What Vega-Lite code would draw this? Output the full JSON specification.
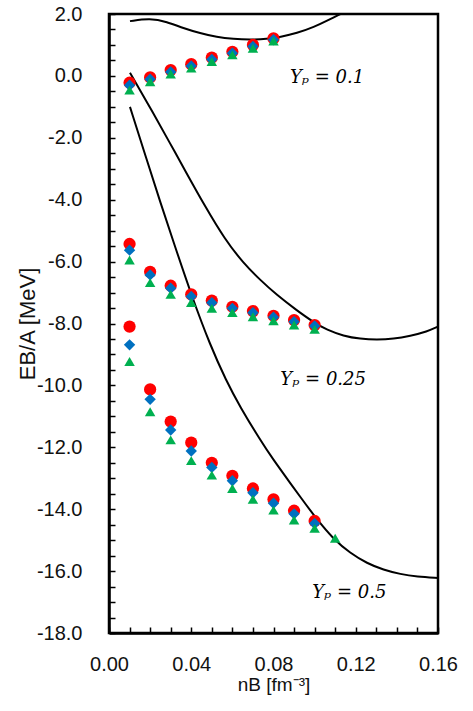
{
  "$schema": "https://vega.github.io/schema/vega-lite/v6.json",
  "width": 329,
  "height": 619,
  "autosize": {"type": "none"},
  "padding": {"left": 109, "top": 14, "right": 35, "bottom": 78},
  "background": "white",
  "config": {
    "view": {"stroke": "black", "strokeWidth": 2.5},
    "axis": {
      "grid": false,
      "domain": true,
      "domainColor": "black",
      "domainWidth": 2.5,
      "labelFont": "Liberation Sans",
      "labelFontSize": 20,
      "labelColor": "#111111",
      "titleFont": "Liberation Sans",
      "titleFontWeight": "normal",
      "titleColor": "#111111"
    }
  },
  "datasets": {
    "curves": [
      {"curve": "c1", "x": 0.0102, "y": 1.77},
      {"curve": "c1", "x": 0.0200, "y": 1.86},
      {"curve": "c1", "x": 0.0281, "y": 1.75},
      {"curve": "c1", "x": 0.0362, "y": 1.54},
      {"curve": "c1", "x": 0.0443, "y": 1.38},
      {"curve": "c1", "x": 0.0524, "y": 1.25},
      {"curve": "c1", "x": 0.0605, "y": 1.19},
      {"curve": "c1", "x": 0.0686, "y": 1.17},
      {"curve": "c1", "x": 0.0768, "y": 1.19},
      {"curve": "c1", "x": 0.0833, "y": 1.26},
      {"curve": "c1", "x": 0.0914, "y": 1.38},
      {"curve": "c1", "x": 0.0995, "y": 1.57},
      {"curve": "c1", "x": 0.1076, "y": 1.83},
      {"curve": "c1", "x": 0.1125, "y": 2.0},
      {"curve": "c2", "x": 0.0102, "y": 0.10},
      {"curve": "c2", "x": 0.0216, "y": -1.21},
      {"curve": "c2", "x": 0.0297, "y": -2.18},
      {"curve": "c2", "x": 0.0378, "y": -3.15},
      {"curve": "c2", "x": 0.0459, "y": -4.12},
      {"curve": "c2", "x": 0.0565, "y": -5.30},
      {"curve": "c2", "x": 0.0654, "y": -6.05},
      {"curve": "c2", "x": 0.0735, "y": -6.59},
      {"curve": "c2", "x": 0.0816, "y": -7.08},
      {"curve": "c2", "x": 0.0914, "y": -7.58},
      {"curve": "c2", "x": 0.0995, "y": -7.96},
      {"curve": "c2", "x": 0.1060, "y": -8.21},
      {"curve": "c2", "x": 0.1140, "y": -8.40},
      {"curve": "c2", "x": 0.1222, "y": -8.50},
      {"curve": "c2", "x": 0.1303, "y": -8.53},
      {"curve": "c2", "x": 0.1384, "y": -8.50},
      {"curve": "c2", "x": 0.1465, "y": -8.40},
      {"curve": "c2", "x": 0.1547, "y": -8.26},
      {"curve": "c2", "x": 0.1600, "y": -8.10},
      {"curve": "c3", "x": 0.0102, "y": -1.00},
      {"curve": "c3", "x": 0.0184, "y": -2.72},
      {"curve": "c3", "x": 0.0248, "y": -4.05},
      {"curve": "c3", "x": 0.0313, "y": -5.35},
      {"curve": "c3", "x": 0.0403, "y": -7.13},
      {"curve": "c3", "x": 0.0492, "y": -8.70},
      {"curve": "c3", "x": 0.0570, "y": -9.85},
      {"curve": "c3", "x": 0.0638, "y": -10.70},
      {"curve": "c3", "x": 0.0735, "y": -11.76},
      {"curve": "c3", "x": 0.0800, "y": -12.41},
      {"curve": "c3", "x": 0.0870, "y": -13.05},
      {"curve": "c3", "x": 0.0930, "y": -13.60},
      {"curve": "c3", "x": 0.1011, "y": -14.33},
      {"curve": "c3", "x": 0.1092, "y": -14.97},
      {"curve": "c3", "x": 0.1173, "y": -15.42},
      {"curve": "c3", "x": 0.1255, "y": -15.75},
      {"curve": "c3", "x": 0.1335, "y": -15.96},
      {"curve": "c3", "x": 0.1417, "y": -16.10},
      {"curve": "c3", "x": 0.1498, "y": -16.18},
      {"curve": "c3", "x": 0.1600, "y": -16.22}
    ],
    "points": [
      {"s": "A", "yp": 0.1, "x": 0.01, "y": -0.22},
      {"s": "A", "yp": 0.1, "x": 0.02, "y": -0.05},
      {"s": "A", "yp": 0.1, "x": 0.03, "y": 0.19},
      {"s": "A", "yp": 0.1, "x": 0.04, "y": 0.38},
      {"s": "A", "yp": 0.1, "x": 0.05, "y": 0.59},
      {"s": "A", "yp": 0.1, "x": 0.06, "y": 0.78},
      {"s": "A", "yp": 0.1, "x": 0.07, "y": 1.00},
      {"s": "A", "yp": 0.1, "x": 0.08, "y": 1.21},
      {"s": "A", "yp": 0.25, "x": 0.01, "y": -5.43},
      {"s": "A", "yp": 0.25, "x": 0.02, "y": -6.33},
      {"s": "A", "yp": 0.25, "x": 0.03, "y": -6.78},
      {"s": "A", "yp": 0.25, "x": 0.04, "y": -7.06},
      {"s": "A", "yp": 0.25, "x": 0.05, "y": -7.26},
      {"s": "A", "yp": 0.25, "x": 0.06, "y": -7.46},
      {"s": "A", "yp": 0.25, "x": 0.07, "y": -7.60},
      {"s": "A", "yp": 0.25, "x": 0.08, "y": -7.75},
      {"s": "A", "yp": 0.25, "x": 0.09, "y": -7.89},
      {"s": "A", "yp": 0.25, "x": 0.10, "y": -8.05},
      {"s": "A", "yp": 0.5, "x": 0.01, "y": -8.10},
      {"s": "A", "yp": 0.5, "x": 0.02, "y": -10.13},
      {"s": "A", "yp": 0.5, "x": 0.03, "y": -11.17},
      {"s": "A", "yp": 0.5, "x": 0.04, "y": -11.85},
      {"s": "A", "yp": 0.5, "x": 0.05, "y": -12.50},
      {"s": "A", "yp": 0.5, "x": 0.06, "y": -12.92},
      {"s": "A", "yp": 0.5, "x": 0.07, "y": -13.33},
      {"s": "A", "yp": 0.5, "x": 0.08, "y": -13.68},
      {"s": "A", "yp": 0.5, "x": 0.09, "y": -14.05},
      {"s": "A", "yp": 0.5, "x": 0.10, "y": -14.38},
      {"s": "B", "yp": 0.1, "x": 0.01, "y": -0.30},
      {"s": "B", "yp": 0.1, "x": 0.02, "y": -0.11},
      {"s": "B", "yp": 0.1, "x": 0.03, "y": 0.13},
      {"s": "B", "yp": 0.1, "x": 0.04, "y": 0.32},
      {"s": "B", "yp": 0.1, "x": 0.05, "y": 0.53},
      {"s": "B", "yp": 0.1, "x": 0.06, "y": 0.73},
      {"s": "B", "yp": 0.1, "x": 0.07, "y": 0.95},
      {"s": "B", "yp": 0.1, "x": 0.08, "y": 1.17},
      {"s": "B", "yp": 0.25, "x": 0.01, "y": -5.63},
      {"s": "B", "yp": 0.25, "x": 0.02, "y": -6.43},
      {"s": "B", "yp": 0.25, "x": 0.03, "y": -6.86},
      {"s": "B", "yp": 0.25, "x": 0.04, "y": -7.13},
      {"s": "B", "yp": 0.25, "x": 0.05, "y": -7.33},
      {"s": "B", "yp": 0.25, "x": 0.06, "y": -7.51},
      {"s": "B", "yp": 0.25, "x": 0.07, "y": -7.65},
      {"s": "B", "yp": 0.25, "x": 0.08, "y": -7.80},
      {"s": "B", "yp": 0.25, "x": 0.09, "y": -7.94},
      {"s": "B", "yp": 0.25, "x": 0.10, "y": -8.08},
      {"s": "B", "yp": 0.5, "x": 0.01, "y": -8.69},
      {"s": "B", "yp": 0.5, "x": 0.02, "y": -10.45},
      {"s": "B", "yp": 0.5, "x": 0.03, "y": -11.44},
      {"s": "B", "yp": 0.5, "x": 0.04, "y": -12.12},
      {"s": "B", "yp": 0.5, "x": 0.05, "y": -12.65},
      {"s": "B", "yp": 0.5, "x": 0.06, "y": -13.08},
      {"s": "B", "yp": 0.5, "x": 0.07, "y": -13.47},
      {"s": "B", "yp": 0.5, "x": 0.08, "y": -13.81},
      {"s": "B", "yp": 0.5, "x": 0.09, "y": -14.15},
      {"s": "B", "yp": 0.5, "x": 0.10, "y": -14.46},
      {"s": "C", "yp": 0.1, "x": 0.01, "y": -0.46},
      {"s": "C", "yp": 0.1, "x": 0.02, "y": -0.19},
      {"s": "C", "yp": 0.1, "x": 0.03, "y": 0.06},
      {"s": "C", "yp": 0.1, "x": 0.04, "y": 0.25},
      {"s": "C", "yp": 0.1, "x": 0.05, "y": 0.46},
      {"s": "C", "yp": 0.1, "x": 0.06, "y": 0.68},
      {"s": "C", "yp": 0.1, "x": 0.07, "y": 0.89},
      {"s": "C", "yp": 0.1, "x": 0.08, "y": 1.13},
      {"s": "C", "yp": 0.25, "x": 0.01, "y": -5.95},
      {"s": "C", "yp": 0.25, "x": 0.02, "y": -6.68},
      {"s": "C", "yp": 0.25, "x": 0.03, "y": -7.06},
      {"s": "C", "yp": 0.25, "x": 0.04, "y": -7.32},
      {"s": "C", "yp": 0.25, "x": 0.05, "y": -7.51},
      {"s": "C", "yp": 0.25, "x": 0.06, "y": -7.65},
      {"s": "C", "yp": 0.25, "x": 0.07, "y": -7.78},
      {"s": "C", "yp": 0.25, "x": 0.08, "y": -7.91},
      {"s": "C", "yp": 0.25, "x": 0.09, "y": -8.05},
      {"s": "C", "yp": 0.25, "x": 0.10, "y": -8.19},
      {"s": "C", "yp": 0.5, "x": 0.01, "y": -9.23},
      {"s": "C", "yp": 0.5, "x": 0.02, "y": -10.85},
      {"s": "C", "yp": 0.5, "x": 0.03, "y": -11.76},
      {"s": "C", "yp": 0.5, "x": 0.04, "y": -12.43},
      {"s": "C", "yp": 0.5, "x": 0.05, "y": -12.90},
      {"s": "C", "yp": 0.5, "x": 0.06, "y": -13.33},
      {"s": "C", "yp": 0.5, "x": 0.07, "y": -13.68},
      {"s": "C", "yp": 0.5, "x": 0.08, "y": -14.03},
      {"s": "C", "yp": 0.5, "x": 0.09, "y": -14.35},
      {"s": "C", "yp": 0.5, "x": 0.10, "y": -14.62},
      {"s": "C", "yp": 0.5, "x": 0.11, "y": -14.94}
    ],
    "labels": [
      {"x": 0.088, "y": -0.07, "label": "Yₚ = 0.1"},
      {"x": 0.0833, "y": -9.83, "label": "Yₚ = 0.25"},
      {"x": 0.0988, "y": -16.71, "label": "Yₚ = 0.5"}
    ]
  },
  "encoding": {
    "x": {
      "field": "x", "type": "quantitative",
      "scale": {"domain": [0, 0.16], "nice": false, "zero": false},
      "axis": {
        "title": "nB [fm⁻³]",
        "titleFontSize": 19,
        "titleY": 57,
        "titleBaseline": "alphabetic",
        "zindex": 1,
        "ticks": true,
        "tickColor": "black",
        "tickWidth": 1.5,
        "tickSize": -6,
        "tickCount": 16,
        "labelExpr": "round(datum.value*100) % 4 == 0 ? format(datum.value, '.2f') : ''",
        "labelPadding": 27,
        "labelFlush": false
      }
    },
    "y": {
      "field": "y", "type": "quantitative",
      "scale": {"domain": [-18, 2], "nice": false, "zero": false},
      "axis": {
        "title": "EB/A  [MeV]",
        "titleFontSize": 22,
        "titleAngle": -90,
        "titleX": -82,
        "titleY": 309.5,
        "titleAlign": "center",
        "titleBaseline": "middle",
        "zindex": 1,
        "ticks": true,
        "tickColor": "black",
        "tickWidth": 1.5,
        "tickSize": -6,
        "tickCount": 40,
        "labelExpr": "round(datum.value*2) % 4 == 0 ? replace(format(datum.value, '.1f'), '−', '-') : ''",
        "labelPadding": 33,
        "labelFlush": false
      }
    }
  },
  "layer": [
    {
      "data": {"name": "curves"},
      "mark": {"type": "line", "color": "black", "strokeWidth": 2, "interpolate": "basis"},
      "encoding": {"detail": {"field": "curve"}}
    },
    {
      "data": {"name": "points"},
      "mark": {"type": "point", "filled": true, "opacity": 1},
      "encoding": {
        "color": {"field": "s", "type": "nominal", "scale": {"domain": ["A", "B", "C"], "range": ["#FF0000", "#0070C0", "#00B050"]}, "legend": null},
        "shape": {"field": "s", "type": "nominal", "scale": {"domain": ["A", "B", "C"], "range": ["circle", "M0,-1L1,0L0,1L-1,0Z", "M0,-0.85L1,0.85L-1,0.85Z"]}, "legend": null},
        "size": {"field": "s", "type": "nominal", "scale": {"domain": ["A", "B", "C"], "range": [150, 110, 150]}, "legend": null}
      }
    },
    {
      "data": {"name": "labels"},
      "mark": {"type": "text", "align": "left", "baseline": "middle", "font": "DejaVu Serif", "fontStyle": "italic", "fontSize": 18, "color": "black"},
      "encoding": {"text": {"field": "label"}}
    }
  ]
}
